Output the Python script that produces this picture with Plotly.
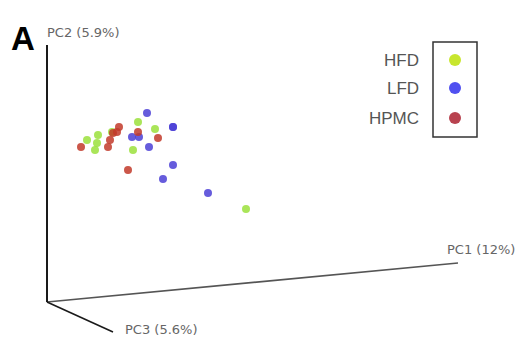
import plotly.graph_objects as go

# PCoA scores projected onto the page plane (origin of the axis frame at 0,0)
hfd_x = [91, 108, 51, 50, 48, 40, 86, 199, 65]
hfd_y = [180, 173, 167, 159, 152, 162, 152, 93, 170]
lfd_x = [100, 126, 92, 102, 126, 161, 126, 116, 85]
lfd_y = [189, 175, 165, 155, 137, 109, 175, 123, 165]
hpmc_x = [66, 70, 63, 61, 91, 111, 81, 34, 72]
hpmc_y = [169, 170, 162, 155, 170, 164, 132, 155, 175]

groups = ["HFD", "LFD", "HPMC"]
point_colors = ["#9be03c", "#4b3fd6", "#c23a2a"]
legend_colors = ["#c8e62e", "#5050f0", "#b8424f"]

# axis frame end points (PC1, PC2, PC3) in the same projected space
axis_ends = {"PC1 (12%)": (411, 39), "PC2 (5.9%)": (0, 257), "PC3 (5.6%)": (66, -30)}

fig = go.Figure()

for name, (ex, ey) in axis_ends.items():
    fig.add_trace(go.Scatter(
        x=[0, ex], y=[0, ey], mode="lines",
        line=dict(color="#1a1a1a" if name != "PC1 (12%)" else "#555555",
                  width=2 if name == "PC2 (5.9%)" else 1.6),
        hoverinfo="skip", showlegend=False))

for name, xs, ys, c in zip(groups, [hfd_x, lfd_x, hpmc_x], [hfd_y, lfd_y, hpmc_y], point_colors):
    fig.add_trace(go.Scatter(
        x=xs, y=ys, mode="markers", name=name,
        marker=dict(color=c, size=8, opacity=0.85, line=dict(width=0)),
        showlegend=False))

# legend block: labels left of a framed column of swatches
leg_y = [242, 214, 184]
fig.add_trace(go.Scatter(
    x=[408, 408, 408], y=leg_y, mode="markers",
    marker=dict(color=legend_colors, size=12, line=dict(width=0)),
    hoverinfo="skip", showlegend=False))
fig.add_shape(type="rect", x0=386, x1=430, y0=165, y1=260,
              line=dict(color="#333333", width=1.5))
for g, yv in zip(groups, leg_y):
    fig.add_annotation(x=374, y=yv, text=g, showarrow=False, xanchor="right",
                       font=dict(size=17, color="#555555", family="Liberation Sans, Arial"))

lab_font = dict(size=13, color="#666666", family="DejaVu Sans")
fig.add_annotation(x=-2, y=270, text="PC2 (5.9%)", showarrow=False, xanchor="left", font=lab_font)
fig.add_annotation(x=398, y=53, text="PC1 (12%)", showarrow=False, xanchor="left", font=lab_font)
fig.add_annotation(x=76, y=-27, text="PC3 (5.6%)", showarrow=False, xanchor="left", font=lab_font)
fig.add_annotation(x=-38, y=264, text="<b>A</b>", showarrow=False, xanchor="left",
                   font=dict(size=33, color="#000000", family="Liberation Sans, Arial"))

fig.update_layout(
    width=525, height=341, margin=dict(l=0, r=0, t=0, b=0),
    paper_bgcolor="white", plot_bgcolor="white",
    xaxis=dict(range=[-47, 478], visible=False, fixedrange=True),
    yaxis=dict(range=[-39, 302], visible=False, fixedrange=True),
)

fig.write_html("out.html")
